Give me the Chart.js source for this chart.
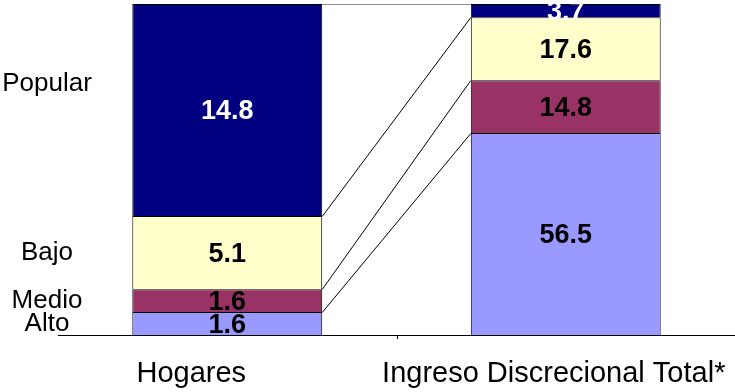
<!DOCTYPE html>
<html>
<head>
<meta charset="utf-8">
<script src="https://cdn.jsdelivr.net/npm/chart.js@4.4.0/dist/chart.umd.min.js"></script>
<style>
  html, body { margin: 0; padding: 0; background: #fff; }
  #wrap { width: 735px; height: 392px; }
</style>
</head>
<body>
<div id="wrap"><canvas id="chart" width="735" height="392"></canvas></div>
<script>
// ---------- data ----------
const categories = ["Hogares", "Ingreso Discrecional Total*"];
const segments = ["Alto", "Medio", "Bajo", "Popular"];
const alto = [1.6, 56.5];
const medio = [1.6, 14.8];
const bajo = [5.1, 17.6];
const popular = [14.8, 3.7];

const series = [alto, medio, bajo, popular];
const colors = ["#9999FF", "#993366", "#FFFFCC", "#000080"];
const labelColors = ["#000", "#000", "#000", "#fff"];
// nudge for the side labels (px), Popular sits higher than its segment middle
const sideShift = [0, 0, 0, -26];
// category labels sit a little left of their bars
const catShift = [-36, -12];

const FONT = "'Liberation Sans', Arial, sans-serif";

// each bar fills 100%, segments are shares of the bar total
const totals = categories.map((_, i) => series.reduce((s, arr) => s + arr[i], 0));
const pct = (arr) => arr.map((v, i) => (v / totals[i]) * 100);

// ---------- plugins ----------
const seriesLines = {
  id: "seriesLines",
  afterDatasetsDraw(chart) {
    const ctx = chart.ctx;
    ctx.save();
    ctx.lineWidth = 1;
    chart.data.datasets.forEach((ds, i) => {
      const a = chart.getDatasetMeta(i).data[0];
      const b = chart.getDatasetMeta(i).data[1];
      ctx.strokeStyle = i === series.length - 1 ? "#8a8a8a" : "#000";
      ctx.beginPath();
      ctx.moveTo(a.x + a.width / 2, Math.round(a.y) + 0.5);
      ctx.lineTo(b.x - b.width / 2, Math.round(b.y) + 0.5);
      ctx.stroke();
    });
    ctx.restore();
  },
};

const valueLabels = {
  id: "valueLabels",
  afterDatasetsDraw(chart) {
    const ctx = chart.ctx;
    const area = chart.chartArea;
    ctx.save();
    ctx.beginPath();
    ctx.rect(area.left, area.top, area.right - area.left, area.bottom - area.top);
    ctx.clip();
    ctx.font = "bold 27px " + FONT;
    ctx.textAlign = "center";
    ctx.textBaseline = "middle";
    chart.data.datasets.forEach((ds, i) => {
      chart.getDatasetMeta(i).data.forEach((bar, j) => {
        ctx.fillStyle = labelColors[i];
        ctx.fillText(series[i][j].toFixed(1), bar.x, (bar.y + bar.base) / 2 + 2);
      });
    });
    ctx.restore();
  },
};

const sideLabels = {
  id: "sideLabels",
  afterDraw(chart) {
    const ctx = chart.ctx;
    const xs = chart.scales.x;
    const bottom = chart.chartArea.bottom;
    ctx.save();
    ctx.fillStyle = "#000";
    ctx.textAlign = "center";
    ctx.textBaseline = "middle";

    ctx.font = "26px " + FONT;
    segments.forEach((name, i) => {
      const bar = chart.getDatasetMeta(i).data[0];
      ctx.fillText(name, 47, (bar.y + bar.base) / 2 + sideShift[i]);
    });

    // category names under the axis
    ctx.font = "29px " + FONT;
    categories.forEach((name, i) => {
      ctx.fillText(name, xs.getPixelForValue(i) + catShift[i], bottom + 39);
    });

    // tick between the two categories
    const mid = Math.round((xs.getPixelForValue(0) + xs.getPixelForValue(1)) / 2) + 0.5;
    ctx.strokeStyle = "#000";
    ctx.lineWidth = 1;
    ctx.beginPath();
    ctx.moveTo(mid, bottom);
    ctx.lineTo(mid, bottom + 4);
    ctx.stroke();
    ctx.restore();
  },
};

// ---------- chart ----------
new Chart(document.getElementById("chart"), {
  type: "bar",
  data: {
    labels: categories,
    datasets: series.map((arr, i) => ({
      label: segments[i],
      data: pct(arr),
      backgroundColor: colors[i],
      borderColor: "#000",
      borderWidth: 1,
      categoryPercentage: 1,
      barPercentage: 0.561,
    })),
  },
  options: {
    responsive: false,
    animation: false,
    layout: { padding: { left: 58, top: 4, right: 0, bottom: 0 } },
    plugins: { legend: { display: false }, tooltip: { enabled: false } },
    scales: {
      x: {
        stacked: true,
        grid: { display: false },
        border: { display: true, color: "#000", width: 1 },
        ticks: { display: false },
        afterFit(scale) {
          scale.height = 57;
          scale.paddingLeft = 0;
          scale.paddingRight = 0;
        },
      },
      y: { stacked: true, min: 0, max: 100, display: false },
    },
  },
  plugins: [seriesLines, valueLabels, sideLabels],
});
</script>
</body>
</html>
